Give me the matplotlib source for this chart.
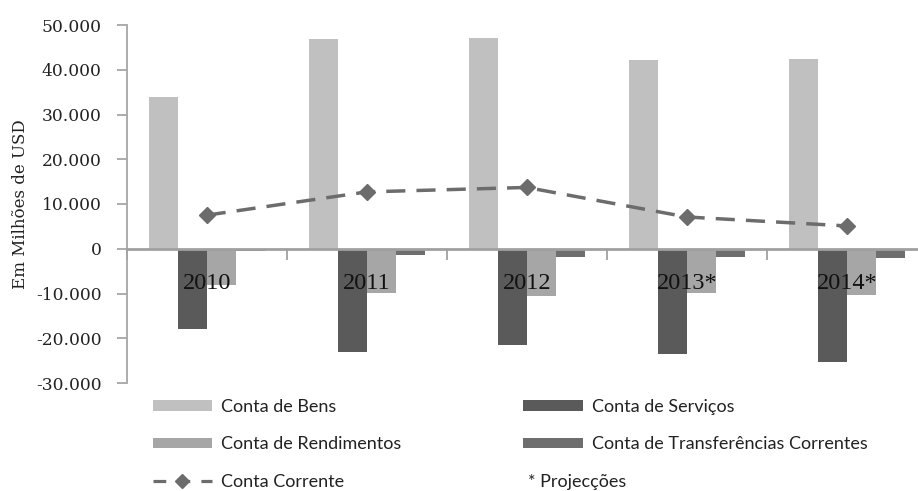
import numpy as np
import matplotlib
matplotlib.use("Agg")
import matplotlib.pyplot as plt
from matplotlib.lines import Line2D
from matplotlib.patches import Patch

# values in millions of USD
years = ["2010", "2011", "2012", "2013*", "2014*"]
bens = [33800, 46800, 47000, 42100, 42500]
servicos = [-18000, -23000, -21400, -23600, -25400]
rendimentos = [-8200, -9800, -10600, -9900, -10400]
transferencias = [-400, -1500, -1800, -1800, -2000]
corrente = [7500, 12700, 13700, 7100, 5100]

yticks = [-30000, -20000, -10000, 0, 10000, 20000, 30000, 40000, 50000]
ytick_labels = ["-30.000", "-20.000", "-10.000", "0", "10.000", "20.000",
                "30.000", "40.000", "50.000"]

series_names = ["Conta de Bens", "Conta de Serviços", "Conta de Rendimentos",
                "Conta de Transferências Correntes"]
colors = ["#c0c0c0", "#5a5a5a", "#a6a6a6", "#6e6e6e"]
line_color = "#6c6c6c"

W, H = 918, 491
fig = plt.figure(figsize=(W / 100, H / 100), dpi=100)
# axes box in pixels: left 126.7, top 25, bottom 383, category width 160
ax = fig.add_axes([126.7 / W, (H - 383) / H, 800 / W, (383 - 25) / H])

x = np.arange(len(years))
bw = 0.181
for i, (vals, c) in enumerate(zip([bens, servicos, rendimentos, transferencias], colors)):
    ax.bar(x + (i - 1.5) * bw, vals, width=bw, color=c, zorder=2)

ax.plot(x, corrente, color=line_color, lw=2.5, dashes=[5.5, 3.2],
        marker="D", markersize=8, markerfacecolor=line_color,
        markeredgecolor=line_color, zorder=4)

ax.set_xlim(-0.5, 4.5)
ax.set_ylim(-30000, 50000)
ax.set_yticks(yticks)
ax.set_yticklabels(ytick_labels, fontsize=12.3, family="DejaVu Serif", color="#222222")
ax.set_ylabel("Em Milhões de USD", fontsize=12, family="DejaVu Serif",
              color="#222222", labelpad=5)

for s in ["top", "right"]:
    ax.spines[s].set_visible(False)
ax.spines["left"].set_color("#a6a6a6")
ax.spines["left"].set_linewidth(1.3)
ax.spines["bottom"].set_position(("data", 0))
ax.spines["bottom"].set_color("#a0a0a0")
ax.spines["bottom"].set_linewidth(2)
ax.spines["bottom"].set_zorder(3)
ax.set_xticks(np.arange(-0.5, 5, 1.0))
ax.set_xticklabels([])
ax.tick_params(axis="x", direction="out", length=8, width=1.3, color="#a0a0a0")
ax.tick_params(axis="y", direction="out", length=7, width=1.3, color="#a6a6a6", pad=11)

for xi, lab in zip(x, years):
    ax.text(xi, -7800, lab, ha="center", va="center", fontsize=17.5,
            family="Liberation Serif", color="#111111", zorder=5)

handles = [
    Patch(facecolor=colors[0]),
    Patch(facecolor=colors[2]),
    Line2D([], [], color=line_color, lw=2.3, dashes=[4, 3.5], marker="D",
           markersize=7, markerfacecolor=line_color, markeredgecolor=line_color),
    Patch(facecolor=colors[1]),
    Patch(facecolor=colors[3]),
]
labels = [series_names[0], series_names[2], "Conta Corrente",
          series_names[1], series_names[3]]
fig.legend(handles, labels, loc="upper left",
           bbox_to_anchor=(152.7 / W, 1 - 399 / H), ncol=2, frameon=False,
           prop={"family": "Lato", "size": 13}, handlelength=3.3,
           handleheight=0.5, handletextpad=0.5, columnspacing=6.75,
           labelspacing=1.18, borderpad=0, borderaxespad=0,
           labelcolor="#222222")
fig.text(528 / W, 1 - 482 / H, "* Projecções", family="Lato", fontsize=13,
         color="#222222", va="center", ha="left")

fig.savefig("out.png", dpi=100)
